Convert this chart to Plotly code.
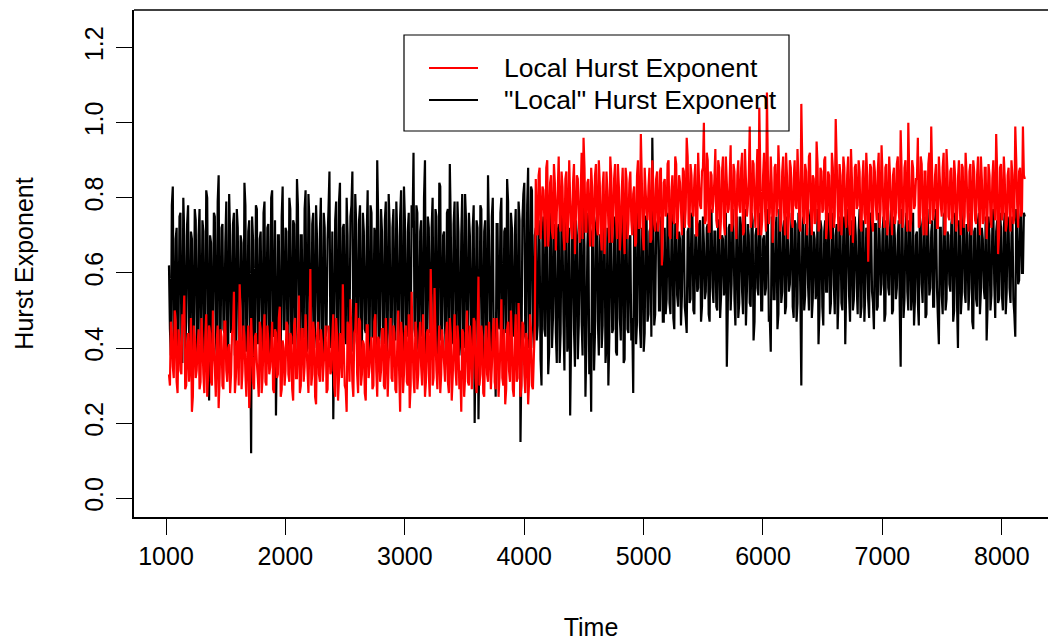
import plotly.graph_objects as go

# ---- data ----
# readings every 16 time units, plus the readings halfway between them
t_start, t_step = 1025, 8
black_main = [
    0.62, 0.38, 0.83, 0.41, 0.72, 0.44, 0.76, 0.36, 0.70, 0.47, 0.78, 0.40, 0.69, 0.43, 0.74, 0.37,
    0.77, 0.45, 0.71, 0.39, 0.80, 0.26, 0.68, 0.46, 0.75, 0.38, 0.86, 0.41, 0.73, 0.44, 0.79, 0.36,
    0.70, 0.47, 0.76, 0.40, 0.72, 0.43, 0.68, 0.37, 0.78, 0.45, 0.74, 0.12, 0.69, 0.41, 0.77, 0.44,
    0.71, 0.38, 0.79, 0.46, 0.73, 0.40, 0.82, 0.43, 0.22, 0.70, 0.39, 0.75, 0.45, 0.72, 0.41, 0.80,
    0.43, 0.74, 0.37, 0.85, 0.46, 0.70, 0.42, 0.77, 0.39, 0.81, 0.44, 0.73, 0.40, 0.78, 0.47, 0.71,
    0.38, 0.76, 0.43, 0.69, 0.87, 0.41, 0.21, 0.74, 0.45, 0.79, 0.39, 0.72, 0.44, 0.80, 0.37, 0.75,
    0.87, 0.42, 0.73, 0.46, 0.78, 0.40, 0.71, 0.44, 0.82, 0.38, 0.76, 0.43, 0.70, 0.90, 0.41, 0.77,
    0.45, 0.74, 0.39, 0.81, 0.42, 0.72, 0.47, 0.79, 0.40, 0.75, 0.36, 0.83, 0.44, 0.71, 0.41, 0.78,
    0.92, 0.43, 0.76, 0.38, 0.74, 0.45, 0.90, 0.40, 0.72, 0.46, 0.80, 0.39, 0.75, 0.42, 0.83, 0.44,
    0.71, 0.37, 0.77, 0.89, 0.41, 0.73, 0.45, 0.79, 0.38, 0.70, 0.43, 0.81, 0.40, 0.76, 0.46, 0.72,
    0.20, 0.74, 0.21, 0.78, 0.42, 0.71, 0.39, 0.86, 0.44, 0.75, 0.40, 0.27, 0.73, 0.45, 0.80, 0.38,
    0.72, 0.85, 0.41, 0.76, 0.43, 0.70, 0.37, 0.79, 0.15, 0.74, 0.84, 0.42, 0.88, 0.45, 0.82, 0.40,
    0.72, 0.46, 0.68, 0.30, 0.75, 0.43, 0.70, 0.39, 0.77, 0.48, 0.66, 0.36, 0.73, 0.44, 0.71, 0.34,
    0.76, 0.42, 0.22, 0.69, 0.45, 0.74, 0.37, 0.70, 0.47, 0.78, 0.27, 0.67, 0.33, 0.23, 0.72, 0.44,
    0.75, 0.38, 0.70, 0.46, 0.73, 0.41, 0.30, 0.77, 0.44, 0.68, 0.39, 0.74, 0.48, 0.71, 0.36, 0.76,
    0.45, 0.69, 0.42, 0.28, 0.73, 0.47, 0.78, 0.40, 0.70, 0.44, 0.75, 0.49, 0.72, 0.96, 0.46, 0.71,
    0.74, 0.50, 0.70, 0.47, 0.49, 0.76, 0.52, 0.69, 0.48, 0.73, 0.54, 0.71, 0.46, 0.77, 0.51, 0.44,
    0.72, 0.53, 0.75, 0.49, 0.70, 0.56, 0.74, 0.51, 0.68, 0.55, 0.73, 0.47, 0.76, 0.52, 0.71, 0.50,
    0.74, 0.54, 0.69, 0.57, 0.35, 0.72, 0.50, 0.77, 0.53, 0.70, 0.48, 0.75, 0.55, 0.71, 0.46, 0.73,
    0.52, 0.76, 0.42, 0.70, 0.56, 0.74, 0.50, 0.69, 0.54, 0.77, 0.47, 0.39, 0.72, 0.53, 0.75, 0.49,
    0.71, 0.55, 0.74, 0.51, 0.68, 0.57, 0.76, 0.48, 0.73, 0.52, 0.70, 0.30, 0.75, 0.54, 0.72, 0.50,
    0.77, 0.53, 0.69, 0.56, 0.41, 0.74, 0.51, 0.71, 0.55, 0.76, 0.49, 0.72, 0.57, 0.70, 0.45, 0.75,
    0.52, 0.73, 0.41, 0.77, 0.54, 0.70, 0.50, 0.75, 0.56, 0.71, 0.48, 0.74, 0.47, 0.72, 0.53, 0.76,
    0.55, 0.45, 0.73, 0.51, 0.70, 0.57, 0.75, 0.49, 0.72, 0.54, 0.77, 0.50, 0.69, 0.56, 0.74, 0.35,
    0.71, 0.53, 0.76, 0.50, 0.73, 0.55, 0.46, 0.70, 0.52, 0.75, 0.57, 0.72, 0.48, 0.77, 0.54, 0.71,
    0.51, 0.74, 0.56, 0.41, 0.72, 0.49, 0.76, 0.53, 0.70, 0.55, 0.75, 0.50, 0.73, 0.40, 0.71, 0.54,
    0.77, 0.52, 0.70, 0.56, 0.74, 0.45, 0.72, 0.51, 0.76, 0.55, 0.69, 0.53, 0.42, 0.75, 0.50, 0.73,
    0.57, 0.71, 0.52, 0.76, 0.54, 0.72, 0.49, 0.75, 0.56, 0.70, 0.53, 0.43, 0.74, 0.58, 0.77, 0.60,
    0.75,
]
black_between = [
    0.45, 0.78, 0.40, 0.69, 0.37, 0.75, 0.42, 0.80, 0.39, 0.73, 0.44, 0.71, 0.38, 0.77, 0.43, 0.70,
    0.41, 0.74, 0.36, 0.82, 0.46, 0.70, 0.39, 0.76, 0.43, 0.79, 0.37, 0.72, 0.45, 0.68, 0.40, 0.81,
    0.44, 0.73, 0.38, 0.77, 0.42, 0.70, 0.47, 0.84, 0.39, 0.71, 0.43, 0.75, 0.36, 0.78, 0.41, 0.69,
    0.46, 0.76, 0.40, 0.72, 0.37, 0.80, 0.44, 0.74, 0.42, 0.70, 0.38, 0.83, 0.45, 0.71, 0.39, 0.77,
    0.41, 0.73, 0.47, 0.78, 0.36, 0.70, 0.43, 0.82, 0.40, 0.74, 0.38, 0.76, 0.44, 0.69, 0.42, 0.80,
    0.37, 0.72, 0.45, 0.77, 0.40, 0.71, 0.43, 0.79, 0.38, 0.84, 0.46, 0.73, 0.41, 0.70, 0.44, 0.78,
    0.39, 0.81, 0.42, 0.74, 0.37, 0.76, 0.45, 0.70, 0.40, 0.78, 0.43, 0.72, 0.36, 0.75, 0.46, 0.71,
    0.41, 0.79, 0.44, 0.73, 0.38, 0.77, 0.42, 0.70, 0.47, 0.82, 0.39, 0.74, 0.43, 0.76, 0.37, 0.72,
    0.45, 0.78, 0.40, 0.71, 0.43, 0.80, 0.38, 0.75, 0.44, 0.72, 0.41, 0.77, 0.36, 0.84, 0.42, 0.70,
    0.46, 0.76, 0.39, 0.73, 0.44, 0.79, 0.37, 0.71, 0.42, 0.81, 0.40, 0.74, 0.45, 0.70, 0.38, 0.78,
    0.43, 0.72, 0.41, 0.77, 0.36, 0.74, 0.44, 0.70, 0.39, 0.80, 0.42, 0.73, 0.46, 0.76, 0.40, 0.71,
    0.44, 0.79, 0.38, 0.72, 0.45, 0.77, 0.41, 0.74, 0.37, 0.81, 0.43, 0.78, 0.40, 0.83, 0.46, 0.70,
    0.42, 0.74, 0.37, 0.70, 0.45, 0.76, 0.33, 0.68, 0.40, 0.73, 0.44, 0.71, 0.36, 0.77, 0.47, 0.69,
    0.39, 0.72, 0.43, 0.75, 0.35, 0.70, 0.46, 0.74, 0.38, 0.67, 0.41, 0.76, 0.44, 0.71, 0.34, 0.73,
    0.47, 0.70, 0.40, 0.77, 0.36, 0.72, 0.43, 0.69, 0.45, 0.75, 0.38, 0.71, 0.42, 0.78, 0.37, 0.73,
    0.44, 0.70, 0.48, 0.74, 0.41, 0.76, 0.46, 0.72, 0.39, 0.75, 0.47, 0.71, 0.43, 0.77, 0.49, 0.73,
    0.50, 0.75, 0.47, 0.72, 0.53, 0.70, 0.49, 0.76, 0.45, 0.73, 0.51, 0.69, 0.54, 0.74, 0.48, 0.71,
    0.52, 0.76, 0.50, 0.70, 0.55, 0.73, 0.47, 0.75, 0.53, 0.72, 0.49, 0.77, 0.56, 0.71, 0.51, 0.74,
    0.48, 0.70, 0.54, 0.76, 0.50, 0.73, 0.57, 0.71, 0.46, 0.75, 0.52, 0.72, 0.49, 0.77, 0.55, 0.70,
    0.51, 0.74, 0.47, 0.72, 0.54, 0.76, 0.50, 0.70, 0.56, 0.73, 0.48, 0.75, 0.53, 0.71, 0.45, 0.77,
    0.52, 0.72, 0.49, 0.75, 0.55, 0.70, 0.51, 0.74, 0.47, 0.76, 0.54, 0.71, 0.50, 0.73, 0.57, 0.75,
    0.48, 0.71, 0.53, 0.77, 0.50, 0.72, 0.46, 0.74, 0.55, 0.70, 0.52, 0.76, 0.49, 0.73, 0.54, 0.71,
    0.50, 0.75, 0.56, 0.72, 0.47, 0.74, 0.53, 0.70, 0.49, 0.77, 0.51, 0.73, 0.55, 0.71, 0.48, 0.75,
    0.52, 0.73, 0.50, 0.76, 0.54, 0.71, 0.47, 0.74, 0.56, 0.72, 0.49, 0.75, 0.53, 0.70, 0.51, 0.77,
    0.48, 0.72, 0.55, 0.74, 0.50, 0.76, 0.53, 0.71, 0.46, 0.73, 0.52, 0.75, 0.49, 0.70, 0.56, 0.74,
    0.51, 0.77, 0.48, 0.72, 0.54, 0.75, 0.50, 0.71, 0.57, 0.73, 0.47, 0.76, 0.52, 0.74, 0.49, 0.72,
    0.55, 0.73, 0.50, 0.76, 0.47, 0.71, 0.53, 0.74, 0.49, 0.72, 0.56, 0.75, 0.51, 0.70, 0.54, 0.77,
    0.48, 0.74, 0.53, 0.72, 0.50, 0.76, 0.55, 0.73, 0.52, 0.75, 0.49, 0.77, 0.57, 0.74, 0.60, 0.76,
]
red_main = [
    0.33, 0.47, 0.35, 0.50, 0.31, 0.45, 0.34, 0.49, 0.54, 0.30, 0.44, 0.36, 0.23, 0.46, 0.32, 0.41,
    0.29, 0.48, 0.33, 0.43, 0.27, 0.46, 0.31, 0.50, 0.35, 0.42, 0.24, 0.45, 0.30, 0.47, 0.34, 0.40,
    0.28, 0.44, 0.55, 0.32, 0.41, 0.57, 0.29, 0.46, 0.33, 0.39, 0.24, 0.48, 0.31, 0.43, 0.36, 0.27,
    0.45, 0.32, 0.49, 0.30, 0.42, 0.35, 0.47, 0.28, 0.44, 0.33, 0.51, 0.29, 0.40, 0.34, 0.46, 0.31,
    0.43, 0.26, 0.48, 0.32, 0.54, 0.30, 0.45, 0.35, 0.41, 0.28, 0.61, 0.33, 0.44, 0.25, 0.47, 0.31,
    0.42, 0.36, 0.46, 0.29, 0.40, 0.34, 0.49, 0.27, 0.43, 0.32, 0.38, 0.57, 0.30, 0.23, 0.45, 0.53,
    0.31, 0.44, 0.52, 0.28, 0.47, 0.33, 0.41, 0.26, 0.46, 0.35, 0.43, 0.30, 0.49, 0.27, 0.42, 0.34,
    0.45, 0.29, 0.40, 0.36, 0.48, 0.31, 0.44, 0.28, 0.50, 0.23, 0.43, 0.33, 0.46, 0.30, 0.24, 0.55,
    0.32, 0.47, 0.29, 0.42, 0.35, 0.49, 0.27, 0.44, 0.33, 0.61, 0.30, 0.56, 0.34, 0.40, 0.28, 0.45,
    0.36, 0.43, 0.31, 0.48, 0.26, 0.41, 0.34, 0.46, 0.29, 0.23, 0.44, 0.32, 0.50, 0.30, 0.42, 0.35,
    0.47, 0.28, 0.59, 0.33, 0.43, 0.27, 0.46, 0.31, 0.40, 0.35, 0.48, 0.29, 0.44, 0.32, 0.53, 0.30,
    0.25, 0.45, 0.34, 0.50, 0.29, 0.42, 0.31, 0.52, 0.27, 0.47, 0.33, 0.44, 0.25, 0.49, 0.30, 0.38,
    0.85, 0.70, 0.88, 0.74, 0.82, 0.67, 0.90, 0.72, 0.86, 0.69, 0.84, 0.76, 0.91, 0.71, 0.83, 0.66,
    0.87, 0.73, 0.80, 0.69, 0.89, 0.75, 0.85, 0.68, 0.92, 0.96, 0.71, 0.84, 0.74, 0.88, 0.67, 0.86,
    0.72, 0.90, 0.70, 0.83, 0.65, 0.87, 0.73, 0.91, 0.68, 0.85, 0.75, 0.89, 0.66, 0.82, 0.71, 0.88,
    0.69, 0.84, 0.74, 0.81, 0.67, 0.86, 0.72, 0.97, 0.70, 0.88, 0.76, 0.83, 0.68, 0.90, 0.73, 0.85,
    0.71, 0.87, 0.62, 0.84, 0.75, 0.89, 0.70, 0.82, 0.74, 0.91, 0.69, 0.86, 0.77, 0.88, 0.72, 0.96,
    0.73, 0.89, 0.76, 0.85, 0.70, 0.92, 0.78, 0.87, 1.00, 0.74, 0.90, 0.71, 0.86, 0.79, 0.93, 0.72,
    0.88, 0.75, 0.91, 0.70, 0.84, 0.77, 0.94, 0.73, 0.87, 0.69, 0.90, 0.76, 0.92, 0.71, 0.85, 0.78,
    0.99, 0.74, 0.89, 0.72, 0.93, 1.04, 0.70, 0.86, 0.77, 1.08, 0.73, 0.91, 0.68, 0.88, 0.75, 0.94,
    0.71, 0.87, 0.76, 0.92, 0.69, 0.90, 0.74, 0.85, 0.78, 0.93, 0.72, 1.05, 0.75, 0.89, 0.70, 0.91,
    0.77, 0.86, 0.73, 0.95, 0.71, 0.88, 0.76, 0.90, 0.69, 0.87, 0.74, 0.92, 0.72, 1.01, 0.78, 0.89,
    0.70, 0.91, 0.75, 0.86, 0.73, 0.93, 0.68, 0.88, 0.77, 0.90, 0.72, 0.85, 0.76, 0.92, 0.63, 0.89,
    0.74, 0.90, 0.78, 0.87, 0.72, 0.94, 0.75, 0.88, 0.70, 0.91, 0.77, 0.86, 0.73, 0.89, 0.76, 0.98,
    0.72, 0.88, 0.75, 1.00, 0.71, 0.90, 0.77, 0.85, 0.96, 0.73, 0.89, 0.70, 0.87, 0.76, 0.92, 0.99,
    0.74, 0.86, 0.72, 0.91, 0.78, 0.88, 0.70, 0.93, 0.75, 0.87, 0.73, 0.90, 0.71, 0.85, 0.77, 0.89,
    0.72, 0.92, 0.76, 0.87, 0.70, 0.90, 0.74, 0.86, 0.78, 0.91, 0.73, 0.88, 0.69, 0.89, 0.75, 0.85,
    0.77, 0.97, 0.65, 0.88, 0.74, 0.91, 0.71, 0.86, 0.76, 0.90, 0.73, 0.99, 0.78, 0.87, 0.75, 0.99,
    0.85,
]
red_between = [
    0.30, 0.44, 0.32, 0.47, 0.28, 0.42, 0.33, 0.46, 0.29, 0.41, 0.31, 0.48, 0.27, 0.43, 0.34, 0.45,
    0.31, 0.42, 0.28, 0.49, 0.33, 0.44, 0.30, 0.40, 0.27, 0.46, 0.32, 0.43, 0.29, 0.47, 0.31, 0.41,
    0.33, 0.45, 0.28, 0.42, 0.30, 0.48, 0.34, 0.43, 0.27, 0.46, 0.31, 0.41, 0.29, 0.44, 0.32, 0.47,
    0.28, 0.43, 0.31, 0.46, 0.33, 0.40, 0.29, 0.45, 0.32, 0.48, 0.27, 0.42, 0.30, 0.47, 0.33, 0.44,
    0.29, 0.46, 0.32, 0.41, 0.28, 0.45, 0.31, 0.49, 0.34, 0.42, 0.30, 0.47, 0.27, 0.43, 0.33, 0.45,
    0.31, 0.40, 0.28, 0.46, 0.33, 0.43, 0.30, 0.48, 0.26, 0.44, 0.32, 0.41, 0.29, 0.47, 0.31, 0.42,
    0.27, 0.45, 0.33, 0.48, 0.30, 0.42, 0.28, 0.46, 0.32, 0.40, 0.29, 0.47, 0.34, 0.43, 0.31, 0.45,
    0.30, 0.48, 0.27, 0.43, 0.32, 0.46, 0.29, 0.41, 0.33, 0.47, 0.28, 0.44, 0.31, 0.49, 0.30, 0.42,
    0.28, 0.44, 0.33, 0.47, 0.30, 0.42, 0.31, 0.45, 0.27, 0.48, 0.32, 0.43, 0.29, 0.46, 0.33, 0.41,
    0.31, 0.47, 0.28, 0.44, 0.32, 0.49, 0.30, 0.42, 0.34, 0.45, 0.27, 0.43, 0.31, 0.46, 0.29, 0.48,
    0.32, 0.43, 0.30, 0.46, 0.28, 0.41, 0.33, 0.47, 0.29, 0.44, 0.31, 0.48, 0.27, 0.42, 0.32, 0.45,
    0.29, 0.47, 0.31, 0.43, 0.27, 0.49, 0.32, 0.44, 0.30, 0.46, 0.28, 0.42, 0.31, 0.45, 0.29, 0.46,
    0.72, 0.86, 0.69, 0.83, 0.74, 0.88, 0.67, 0.84, 0.71, 0.89, 0.66, 0.82, 0.73, 0.87, 0.70, 0.85,
    0.68, 0.90, 0.72, 0.84, 0.65, 0.86, 0.74, 0.81, 0.69, 0.88, 0.71, 0.85, 0.67, 0.83, 0.73, 0.89,
    0.70, 0.84, 0.66, 0.87, 0.72, 0.82, 0.68, 0.86, 0.74, 0.89, 0.69, 0.83, 0.71, 0.88, 0.65, 0.85,
    0.73, 0.87, 0.70, 0.83, 0.68, 0.90, 0.72, 0.85, 0.66, 0.82, 0.74, 0.88, 0.69, 0.84, 0.71, 0.87,
    0.74, 0.88, 0.71, 0.85, 0.76, 0.90, 0.69, 0.86, 0.73, 0.89, 0.75, 0.84, 0.70, 0.87, 0.77, 0.91,
    0.72, 0.86, 0.75, 0.89, 0.70, 0.84, 0.77, 0.88, 0.73, 0.92, 0.71, 0.87, 0.76, 0.85, 0.74, 0.90,
    0.69, 0.87, 0.73, 0.91, 0.76, 0.85, 0.71, 0.89, 0.74, 0.86, 0.78, 0.88, 0.70, 0.93, 0.75, 0.86,
    0.72, 0.90, 0.77, 0.85, 0.70, 0.88, 0.74, 0.92, 0.71, 0.87, 0.76, 0.84, 0.73, 0.89, 0.78, 0.86,
    0.74, 0.91, 0.70, 0.86, 0.75, 0.88, 0.72, 0.90, 0.77, 0.85, 0.71, 0.89, 0.73, 0.87, 0.76, 0.92,
    0.70, 0.85, 0.74, 0.89, 0.72, 0.87, 0.77, 0.91, 0.73, 0.86, 0.69, 0.88, 0.75, 0.90, 0.71, 0.86,
    0.76, 0.88, 0.72, 0.91, 0.70, 0.85, 0.74, 0.89, 0.78, 0.87, 0.71, 0.90, 0.73, 0.86, 0.75, 0.88,
    0.71, 0.87, 0.74, 0.92, 0.77, 0.86, 0.72, 0.89, 0.75, 0.85, 0.70, 0.88, 0.76, 0.91, 0.73, 0.87,
    0.75, 0.90, 0.71, 0.86, 0.74, 0.88, 0.78, 0.85, 0.72, 0.91, 0.76, 0.87, 0.70, 0.89, 0.73, 0.86,
    0.77, 0.89, 0.72, 0.85, 0.75, 0.92, 0.71, 0.87, 0.74, 0.88, 0.76, 0.86, 0.73, 0.90, 0.70, 0.88,
    0.75, 0.86, 0.71, 0.89, 0.77, 0.87, 0.73, 0.91, 0.70, 0.85, 0.74, 0.88, 0.76, 0.86, 0.72, 0.90,
    0.74, 0.87, 0.70, 0.89, 0.76, 0.85, 0.73, 0.88, 0.71, 0.86, 0.75, 0.90, 0.72, 0.88, 0.76, 0.86,
]


def merge(main, between):
    out = []
    for a, b in zip(main, between):
        out.extend([a, b])
    out.append(main[-1])
    return out


black_values = merge(black_main, black_between)
red_values = merge(red_main, red_between)
time = [t_start + t_step * i for i in range(len(black_values))]

x_tick_vals = [1000, 2000, 3000, 4000, 5000, 6000, 7000, 8000]
x_tick_text = ["1000", "2000", "3000", "4000", "5000", "6000", "7000", "8000"]
y_tick_vals = [0.0, 0.2, 0.4, 0.6, 0.8, 1.0, 1.2]
y_tick_text = ["0.0", "0.2", "0.4", "0.6", "0.8", "1.0", "1.2"]
series_names = ["Local Hurst Exponent", "\"Local\" Hurst Exponent"]
series_colors = ["#ff0000", "#000000"]

FONT = "Liberation Sans, Arial, sans-serif"
FS = 25
FS_LEG = 26.5
LW = 2.2

fig = go.Figure()
fig.add_trace(go.Scatter(x=time, y=black_values, mode="lines", name=series_names[1],
                         line=dict(color=series_colors[1], width=LW, simplify=False),
                         showlegend=False))
fig.add_trace(go.Scatter(x=time, y=red_values, mode="lines", name=series_names[0],
                         line=dict(color=series_colors[0], width=LW, simplify=False),
                         showlegend=False))

W, H = 1048, 641
ML, MR, MT, MB = 134, 0, 10, 124
pw, ph = W - ML - MR, H - MT - MB


def px(xp):
    return (xp - ML) / pw


def py(yp):
    return (H - MB - yp) / ph


shapes = [
    # top border of the plot box
    dict(type="line", xref="paper", yref="paper", x0=0, x1=1, y0=1, y1=1,
         line=dict(color="black", width=1.5)),
    # legend box
    dict(type="rect", xref="paper", yref="paper", x0=px(404), x1=px(789), y0=py(131), y1=py(35),
         line=dict(color="black", width=1.2), fillcolor="rgba(0,0,0,0)"),
]
annotations = []
for k, yl in enumerate([68, 100]):
    shapes.append(dict(type="line", xref="paper", yref="paper", x0=px(429), x1=px(478),
                       y0=py(yl), y1=py(yl), line=dict(color=series_colors[k], width=2)))
    annotations.append(dict(xref="paper", yref="paper", x=px(502), y=py(yl), text=series_names[k],
                            showarrow=False, xanchor="left", yanchor="middle",
                            font=dict(family=FONT, size=FS_LEG, color="black")))

fig.update_layout(
    width=W, height=H,
    margin=dict(l=ML, r=MR, t=MT, b=MB, autoexpand=False),
    paper_bgcolor="white", plot_bgcolor="white",
    font=dict(family=FONT, size=FS, color="black"),
    showlegend=False,
    shapes=shapes, annotations=annotations,
    xaxis=dict(range=[732, 8387], tickvals=x_tick_vals, ticktext=x_tick_text,
               showgrid=False, zeroline=False, showline=True, linecolor="black", linewidth=1.5,
               ticks="outside", ticklen=16, tickwidth=1, tickcolor="black",
               tickfont=dict(family=FONT, size=FS),
               title=dict(text="Time", font=dict(family=FONT, size=FS), standoff=51),
               automargin=False),
    yaxis=dict(range=[-0.05, 1.30], tickvals=y_tick_vals, ticktext=y_tick_text, tickangle=-90,
               showgrid=False, zeroline=False, showline=True, linecolor="black", linewidth=1.5,
               ticks="outside", ticklen=16, tickwidth=1, tickcolor="black",
               tickfont=dict(family=FONT, size=FS), ticklabelstandoff=3,
               title=dict(text="Hurst Exponent", font=dict(family=FONT, size=FS), standoff=40),
               automargin=False),
)

fig.write_html("out.html")
